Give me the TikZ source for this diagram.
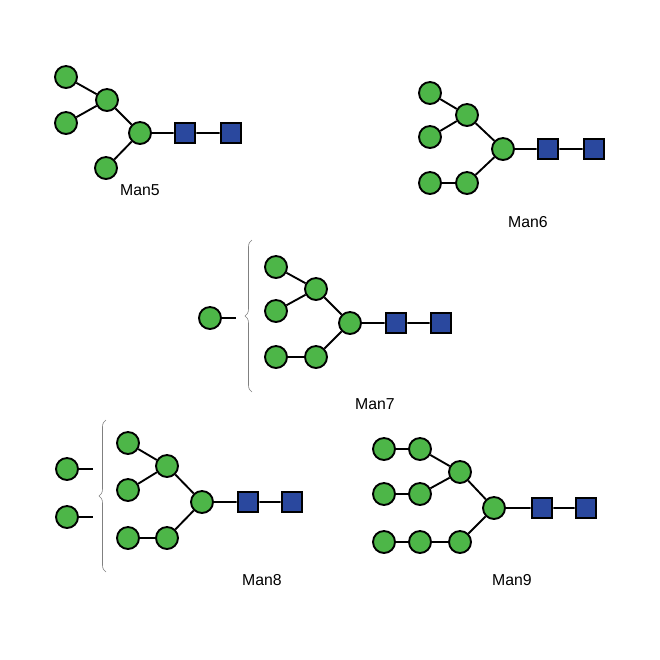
\documentclass[tikz,border=0pt]{standalone}
\usepackage{fontspec}
\setmainfont{Liberation Sans}
\usetikzlibrary{decorations.pathreplacing}
\definecolor{manG}{RGB}{77,182,72}
\definecolor{glcB}{RGB}{42,72,158}
\begin{document}
\begin{tikzpicture}[x=0.03cm, y=-0.03cm, line width=1.6pt,
    man/.style = {draw, circle, fill=manG, minimum size=0.66cm, inner sep=0pt},
    glc/.style = {draw, rectangle, fill=glcB, minimum size=0.62cm, inner sep=0pt},
    lbl/.style = {font=\fontsize{13.5}{16}\selectfont},
    brc/.style = {draw=gray, line width=0.5pt, decorate, decoration={brace, amplitude=6pt}}]

    \useasboundingbox (0,0) rectangle (660,660);

    % Man5
    \node[man] (a1) at (66,77) {};
    \node[man] (a2) at (107,100) {};
    \node[man] (a3) at (66,123) {};
    \node[man] (a4) at (140,133) {};
    \node[man] (a5) at (106,168) {};
    \node[glc] (a6) at (185,133) {};
    \node[glc] (a7) at (231,133) {};
    \draw (a1) -- (a2) (a3) -- (a2) (a2) -- (a4) (a5) -- (a4) (a4) -- (a6) (a6) -- (a7);
    \node[lbl] (l5) at (140,190) {Man5};

    % Man6
    \node[man] (b1) at (430,93) {};
    \node[man] (b2) at (467,115) {};
    \node[man] (b3) at (430,137) {};
    \node[man] (b4) at (503,149) {};
    \node[man] (b5) at (467,183) {};
    \node[man] (b6) at (430,183) {};
    \node[glc] (b7) at (548,149) {};
    \node[glc] (b8) at (594,149) {};
    \draw (b1) -- (b2) (b3) -- (b2) (b2) -- (b4) (b6) -- (b5) (b5) -- (b4) (b4) -- (b7) (b7) -- (b8);
    \node[lbl] (l6) at (528,222) {Man6};

    % Man7
    \node[man] (c0) at (210,318) {};
    \coordinate (c0e) at (236,318);
    \draw (c0) -- (c0e);
    \draw[brc] (252,392) -- (252,240);
    \node[man] (c1) at (276,267) {};
    \node[man] (c2) at (316,289) {};
    \node[man] (c3) at (276,311) {};
    \node[man] (c4) at (350,323) {};
    \node[man] (c5) at (316,357) {};
    \node[man] (c6) at (276,357) {};
    \node[glc] (c7) at (396,323) {};
    \node[glc] (c8) at (441,323) {};
    \draw (c1) -- (c2) (c3) -- (c2) (c2) -- (c4) (c6) -- (c5) (c5) -- (c4) (c4) -- (c7) (c7) -- (c8);
    \node[lbl] (l7) at (375,404) {Man7};

    % Man8
    \node[man] (d0) at (67,469) {};
    \node[man] (d9) at (67,517) {};
    \coordinate (d0e) at (93,469);
    \coordinate (d9e) at (93,517);
    \draw (d0) -- (d0e) (d9) -- (d9e);
    \draw[brc] (106,572) -- (106,420);
    \node[man] (d1) at (128,443) {};
    \node[man] (d2) at (167,466) {};
    \node[man] (d3) at (128,490) {};
    \node[man] (d4) at (202,502) {};
    \node[man] (d5) at (167,538) {};
    \node[man] (d6) at (128,538) {};
    \node[glc] (d7) at (248,502) {};
    \node[glc] (d8) at (292,502) {};
    \draw (d1) -- (d2) (d3) -- (d2) (d2) -- (d4) (d6) -- (d5) (d5) -- (d4) (d4) -- (d7) (d7) -- (d8);
    \node[lbl] (l8) at (262,580) {Man8};

    % Man9
    \node[man] (e1) at (384,449) {};
    \node[man] (e2) at (420,449) {};
    \node[man] (e3) at (460,472) {};
    \node[man] (e4) at (384,494) {};
    \node[man] (e5) at (420,494) {};
    \node[man] (e6) at (494,508) {};
    \node[man] (e7) at (460,542) {};
    \node[man] (e8) at (420,542) {};
    \node[man] (e9) at (384,542) {};
    \node[glc] (e10) at (542,508) {};
    \node[glc] (e11) at (586,508) {};
    \draw (e1) -- (e2) (e2) -- (e3) (e4) -- (e5) (e5) -- (e3) (e3) -- (e6)
          (e9) -- (e8) (e8) -- (e7) (e7) -- (e6) (e6) -- (e10) (e10) -- (e11);
    \node[lbl] (l9) at (512,580) {Man9};

\end{tikzpicture}
\end{document}
